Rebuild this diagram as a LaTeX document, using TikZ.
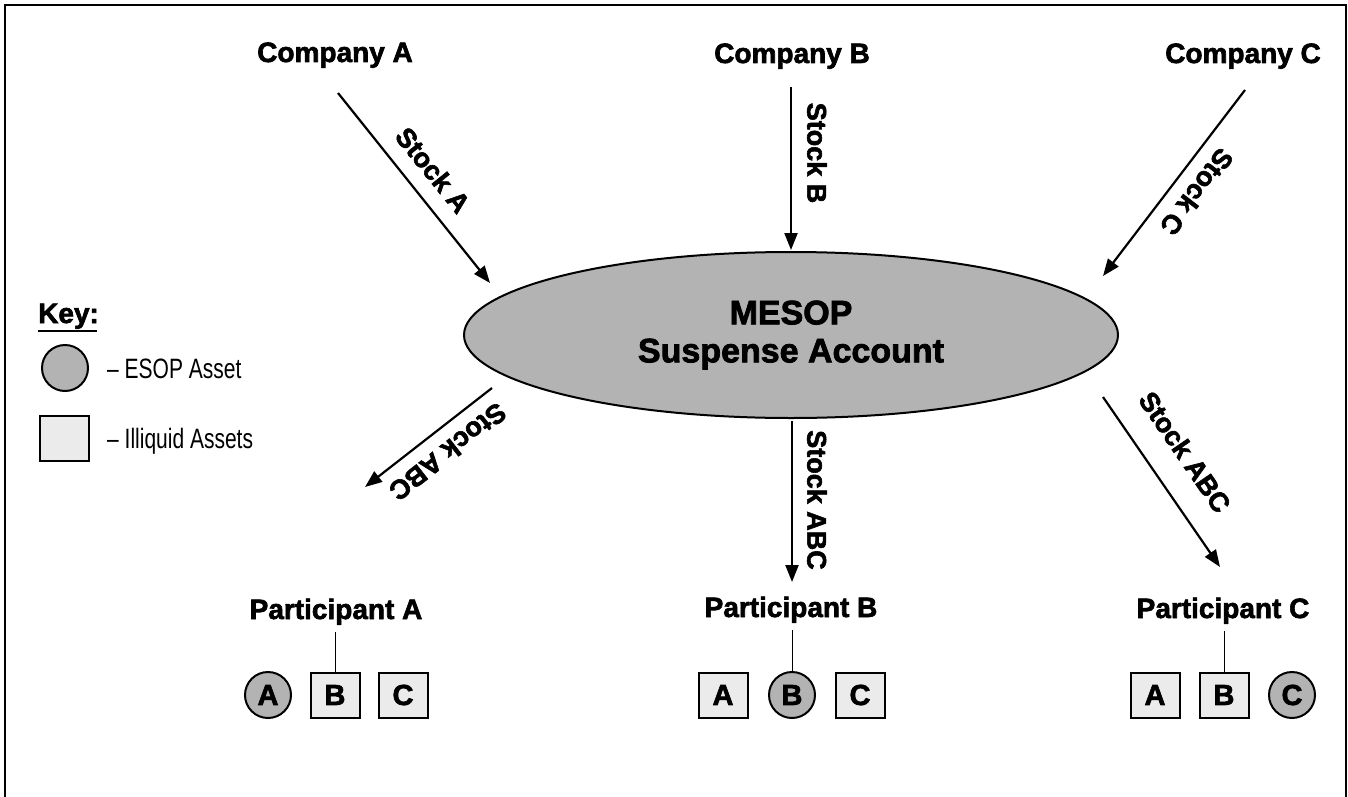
\documentclass[tikz,border=0pt]{standalone}
\usepackage{fontspec}
\setmainfont{Liberation Sans}
\newfontfamily\hvy[FakeBold=2.2]{Liberation Sans Bold}
\newfontfamily\keyfont[FakeStretch=0.75]{Liberation Sans}
\usetikzlibrary{arrows.meta,shapes.geometric}
\definecolor{midgray}{RGB}{179,179,179}
\definecolor{lightgray}{RGB}{235,235,235}
\begin{document}
\begin{tikzpicture}[x=1pt,y=-1pt,
  lbl/.style={font=\hvy\fontsize{28}{30}\selectfont, inner sep=0pt, anchor=base},
  stk/.style={font=\hvy\fontsize{27}{29}\selectfont, inner sep=0pt},
  arr/.style={line width=2.2pt, -{Triangle[length=17pt,width=13pt]}},
  sq/.style={draw, line width=2pt, fill=lightgray, minimum width=49pt, minimum height=45pt, inner sep=0pt, font=\hvy\fontsize{29}{30}\selectfont},
  circ/.style={circle, draw, line width=2pt, fill=midgray, minimum size=46pt, inner sep=0pt, font=\hvy\fontsize{29}{30}\selectfont},
  keytxt/.style={font=\keyfont\fontsize{28}{30}\selectfont, inner sep=0pt, anchor=base west}]
\useasboundingbox (0,0) rectangle (1348,797);
% frame
\draw[line width=2pt] (5,797) -- (5,5) -- (1346,5) -- (1346,797);

% companies
\node[lbl] (ca) at (335,62) {Company A};
\node[lbl] (cb) at (792,63) {Company B};
\node[lbl] (cc) at (1243,63) {Company C};

% ellipse
\node[ellipse, draw, line width=2pt, fill=midgray, minimum width=654pt, minimum height=166pt,
  font=\hvy\fontsize{34}{38}\selectfont, align=center] (m) at (791,335) {MESOP\\Suspense Account};

% top arrows
\coordinate (a1) at (338,93);  \coordinate (a2) at (490,283);
\coordinate (b1) at (791,87);  \coordinate (b2) at (791,250);
\coordinate (c1) at (1245,90); \coordinate (c2) at (1103,276);
\draw[arr] (a1) -- (a2);
\draw[arr] (b1) -- (b2);
\draw[arr] (c1) -- (c2);
\node[stk, rotate=-51] (sa) at (433,170) {Stock A};
\node[stk, rotate=-90] (sb) at (817,153) {Stock B};
\node[stk, rotate=-127.5] (sc) at (1197,192) {Stock C};

% bottom arrows
\coordinate (d1) at (492,388);  \coordinate (d2) at (365,487);
\coordinate (e1) at (792,421);  \coordinate (e2) at (792,582);
\coordinate (f1) at (1103,397); \coordinate (f2) at (1220,567);
\draw[arr] (d1) -- (d2);
\draw[arr] (e1) -- (e2);
\draw[arr] (f1) -- (f2);
\node[stk, rotate=-142] (sd) at (448,452) {Stock ABC};
\node[stk, rotate=-90] (se) at (817,500) {Stock ABC};
\node[stk, rotate=-55.5] (sf) at (1185,452) {Stock ABC};

% participants
\node[lbl] (pa) at (336,619) {Participant A};
\node[lbl] (pb) at (791,617) {Participant B};
\node[lbl] (pc) at (1223,618) {Participant C};

\node[circ] (paa) at (268,695) {A};
\node[sq]   (pab) at (335,695) {B};
\node[sq]   (pac) at (403,695) {C};
\node[sq]   (pba) at (723,695) {A};
\node[circ] (pbb) at (792,695) {B};
\node[sq]   (pbc) at (860,695) {C};
\node[sq]   (pca) at (1155,695) {A};
\node[sq]   (pcb) at (1224,695) {B};
\node[circ] (pcc) at (1292,695) {C};

\draw[line width=1pt] ([yshift=-7pt]pa.south -| pab.north) -- (pab.north);
\draw[line width=1pt] ([yshift=-7pt]pb.south -| pbb.north) -- (pbb.north);
\draw[line width=1pt] ([yshift=-7pt]pc.south -| pcb.north) -- (pcb.north);

% key
\node[lbl, anchor=base west] (key) at (38,323) {Key:};
\draw[line width=2pt] (key.base west) ++(0,8) -- ++(59,0);
\node[circ] (kc) at (65,368) {};
\node[sq] (ks) at (64,438) {};
\node[keytxt] (kct) at (107,378) {– ESOP Asset};
\node[keytxt] (kst) at (107,448) {– Illiquid Assets};
\end{tikzpicture}
\end{document}
